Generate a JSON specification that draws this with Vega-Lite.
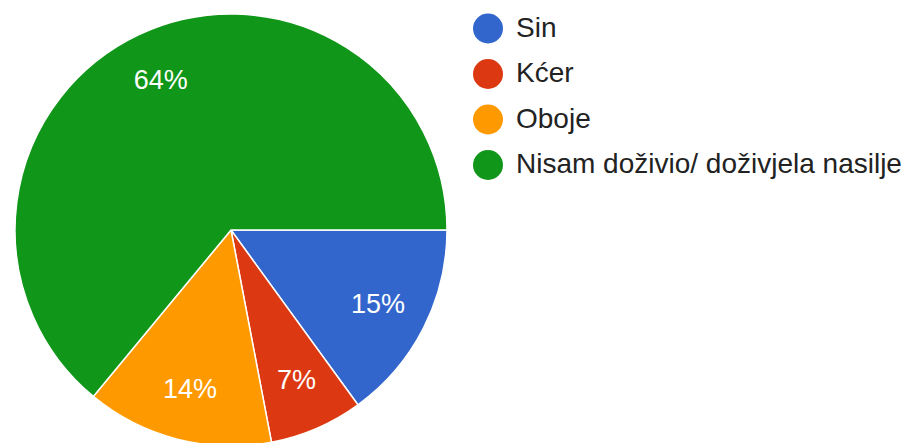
{
  "$schema": "https://vega.github.io/schema/vega-lite/v6.json",
  "width": 462,
  "height": 460,
  "padding": 0,
  "background": "white",
  "data": {
    "values": [
      {"answer": "Sin", "share": 0.15, "rank": 1},
      {"answer": "Kćer", "share": 0.07, "rank": 2},
      {"answer": "Oboje", "share": 0.14, "rank": 3},
      {"answer": "Nisam doživio/ doživjela nasilje", "share": 0.64, "rank": 4}
    ]
  },
  "encoding": {
    "theta": {
      "field": "share",
      "type": "quantitative",
      "stack": true,
      "scale": {"range": [1.5708, 7.854]}
    },
    "order": {"field": "rank", "type": "ordinal"}
  },
  "layer": [
    {
      "mark": {"type": "arc", "radius": 216, "stroke": "white", "strokeWidth": 1.5},
      "encoding": {
        "color": {
          "field": "answer",
          "type": "nominal",
          "sort": null,
          "scale": {
            "domain": ["Sin", "Kćer", "Oboje", "Nisam doživio/ doživjela nasilje"],
            "range": ["#3366cc", "#dc3912", "#ff9900", "#109618"]
          },
          "legend": {
            "title": null,
            "orient": "none",
            "legendX": 473,
            "legendY": 13.5,
            "symbolType": "circle",
            "symbolSize": 900,
            "symbolStrokeWidth": 0,
            "labelFontSize": 28,
            "labelFont": "Liberation Sans",
            "labelColor": "#222222",
            "labelOffset": 13,
            "labelLimit": 600,
            "rowPadding": 15.5
          }
        }
      }
    },
    {
      "mark": {
        "type": "text",
        "radius": 165,
        "fontSize": 27,
        "font": "Liberation Sans",
        "color": "white"
      },
      "encoding": {
        "text": {"field": "share", "format": ".0%"}
      }
    }
  ],
  "config": {"view": {"stroke": null}}
}
